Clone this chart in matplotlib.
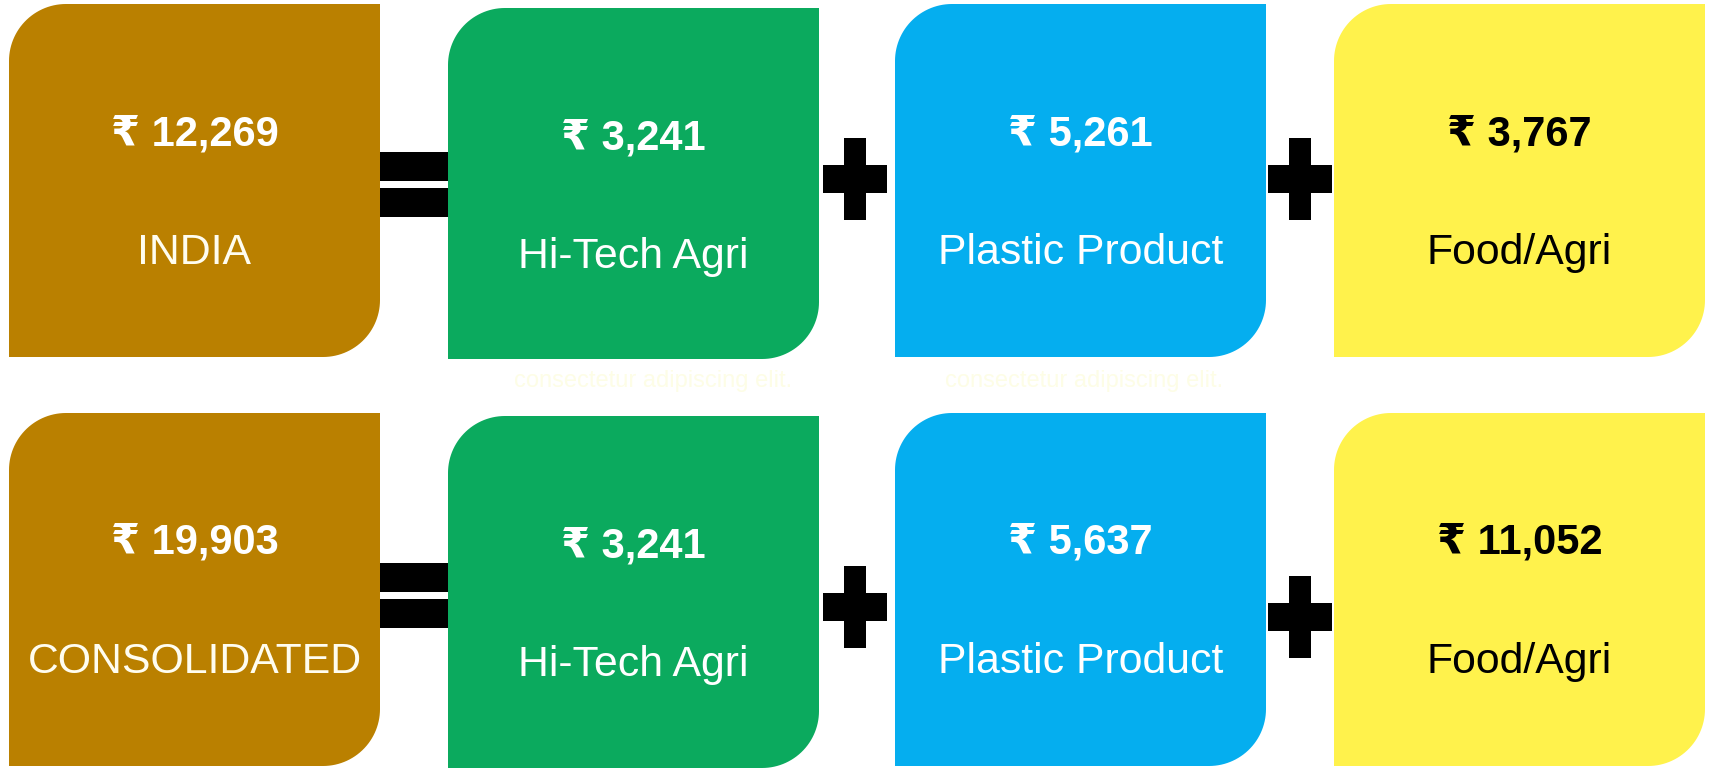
import numpy as np
import matplotlib.pyplot as plt
from matplotlib.patches import Polygon, Rectangle

plt.rcParams['font.family'] = ['Liberation Sans', 'DejaVu Sans']

####### data
row_names = ['INDIA', 'CONSOLIDATED']
totals = [12269, 19903]
segments = ['Hi-Tech Agri', 'Plastic Product', 'Food/Agri']
hitech = [3241, 3241]
plastic = [5261, 5637]
food = [3767, 11052]
faint_note = 'consectetur adipiscing elit.'
#########

box_colors = ['#BA8000', '#0BAA5E', '#05AEEF', '#FFF24C']
text_colors = ['white', 'white', 'white', 'black']
name_colors = ['#FFFDF0', 'white', 'white', 'black']

box_x = [9, 448, 895, 1334]
box_w = 371
row_top = [[4, 8, 4, 4], [413, 416, 413, 413]]
box_h = [[353, 351, 353, 353], [353, 352, 353, 353]]
radius = 57


def rounded_box(x, y, w, h, r):
    # top-left and bottom-right corners rounded (y axis points down)
    t1 = np.linspace(0, np.pi / 2, 30)
    t2 = np.linspace(np.pi, 1.5 * np.pi, 30)
    pts = [(x + w, y), (x + w, y + h - r)]
    pts += list(zip(x + w - r + r * np.cos(t1), y + h - r + r * np.sin(t1)))
    pts += [(x, y + h), (x, y + r)]
    pts += list(zip(x + r + r * np.cos(t2), y + r + r * np.sin(t2)))
    return Polygon(pts, closed=True, lw=0)


fig = plt.figure(figsize=(17.12, 7.69), dpi=100)
ax = fig.add_axes([0, 0, 1, 1])
ax.set_xlim(0, 1712)
ax.set_ylim(769, 0)
ax.axis('off')

for i in range(2):
    vals = [totals[i], hitech[i], plastic[i], food[i]]
    names = [row_names[i]] + segments
    for j in range(4):
        top = row_top[i][j]
        p = rounded_box(box_x[j], top, box_w, box_h[i][j], radius)
        p.set_facecolor(box_colors[j])
        ax.add_patch(p)
        cx = box_x[j] + box_w / 2
        ax.text(cx, top + 141, '₹ {:,}'.format(vals[j]), ha='center', va='baseline',
                fontsize=30, fontweight='bold', color=text_colors[j])
        ax.text(cx, top + 260, names[j], ha='center', va='baseline',
                fontsize=30.8, color=name_colors[j])

##### operators
# equals signs
for y0 in [152, 563]:
    ax.add_patch(Rectangle((380, y0), 68, 29, color='black', lw=0))
    ax.add_patch(Rectangle((380, y0 + 36), 68, 29, color='black', lw=0))

# plus signs (x left, y centre)
plus_pos = [(823, 179), (1268, 179), (823, 607), (1268, 617)]
for px, py in plus_pos:
    ax.add_patch(Rectangle((px, py - 14), 64, 28, color='black', lw=0))
    ax.add_patch(Rectangle((px + 21, py - 41), 22, 82, color='black', lw=0))

# faint placeholder text under row 1
for xc in [653, 1084]:
    ax.text(xc, 381, faint_note, ha='center', va='center',
            fontsize=17, color='#FDFDE6')

fig.savefig('out.png', dpi=100)
